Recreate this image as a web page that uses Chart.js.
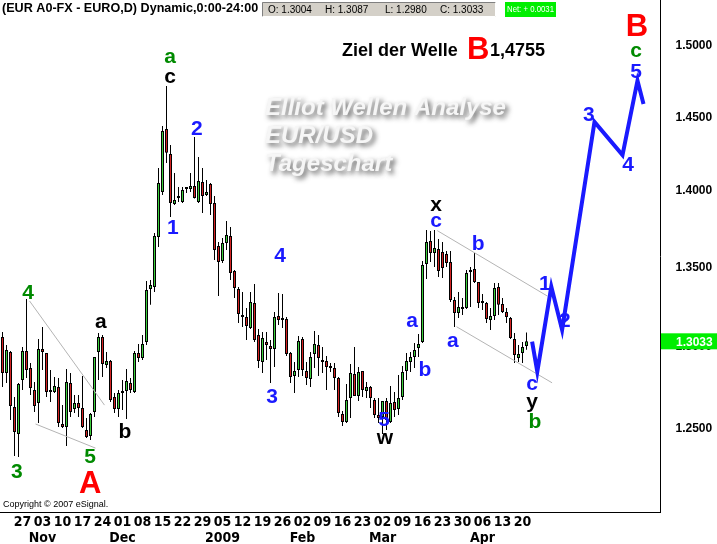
<!DOCTYPE html>
<html>
<head>
<meta charset="utf-8">
<script src="https://cdn.jsdelivr.net/npm/chart.js@4.4.0/dist/chart.umd.min.js"></script>
<style>
html,body{margin:0;padding:0;background:#fff;}
#wrap{width:717px;height:544px;position:relative;}
</style>
</head>
<body>
<div id="wrap"><canvas id="chart"></canvas></div>
<script>
// EUR/USD daily candles, 20 Oct 2008 - 21 Apr 2009
const opens = [
  1.3060,1.2838,1.2967,1.2632,1.2470,1.2795,1.2973,1.2868,1.2735,1.2656,
  1.2985,1.2961,1.2729,1.2723,1.2752,1.2530,1.2512,1.2777,1.2620,1.2656,
  1.2626,1.2494,1.2459,1.2602,1.2967,1.3060,1.2887,1.2912,1.2692,1.2620,
  1.2717,1.2729,1.2777,1.2723,1.2961,1.2930,1.3029,1.3361,1.3374,1.3697,
  1.3993,1.4419,1.4249,1.3914,1.3953,1.3927,1.4013,1.4013,1.4033,1.3927,
  1.4060,1.3973,1.4046,1.3920,1.3638,1.3541,1.3658,1.3703,1.3477,1.3361,
  1.3191,1.3185,1.3116,1.3273,1.3072,1.2906,1.3029,1.3004,1.2985,1.3191,
  1.3168,1.3172,1.2961,1.2819,1.2856,1.3047,1.2850,1.2801,1.2955,1.3010,
  1.2918,1.2912,1.2875,1.2868,1.2807,1.2590,1.2542,1.2686,1.2832,1.2698,
  1.2850,1.2729,1.2752,1.2674,1.2584,1.2572,1.2668,1.2542,1.2662,1.2620,
  1.2692,1.2850,1.2906,1.2936,1.2991,1.3029,1.3521,1.3671,1.3593,1.3619,
  1.3599,1.3586,1.3534,1.3292,1.3210,1.3248,1.3242,1.3470,1.3489,1.3406,
  1.3274,1.3273,1.3166,1.3191,1.3374,1.3267,1.3216,1.3179,1.3047,1.2930,
  1.2961,1.3004
];
const highs = [
  1.3091,1.3010,1.2973,1.2692,1.2777,1.2998,1.3298,1.2899,1.2783,1.3047,
  1.3122,1.2961,1.2856,1.2813,1.2807,1.2644,1.2862,1.2838,1.2704,1.2704,
  1.2819,1.2566,1.2596,1.2936,1.3084,1.3072,1.2967,1.2918,1.2717,1.2735,
  1.2795,1.2862,1.2807,1.2973,1.3016,1.3072,1.3413,1.3419,1.3723,1.4154,
  1.4440,1.4717,1.4310,1.4120,1.4026,1.4026,1.4026,1.4120,1.4364,1.4228,
  1.4154,1.4073,1.4053,1.3966,1.3664,1.3690,1.3801,1.3762,1.3483,1.3374,
  1.3342,1.3242,1.3342,1.3393,1.3109,1.3091,1.3091,1.3041,1.3216,1.3336,
  1.3330,1.3185,1.2967,1.2906,1.3066,1.3060,1.2906,1.2967,1.3097,1.3072,
  1.2998,1.2942,1.2899,1.2899,1.2813,1.2608,1.2771,1.2893,1.2998,1.2875,
  1.2850,1.2783,1.2759,1.2686,1.2686,1.2668,1.2686,1.2759,1.2723,1.2826,
  1.2881,1.2961,1.2967,1.3022,1.3078,1.3541,1.3742,1.3736,1.3742,1.3684,
  1.3664,1.3606,1.3606,1.3311,1.3342,1.3305,1.3483,1.3502,1.3593,1.3406,
  1.3330,1.3279,1.3242,1.3400,1.3400,1.3305,1.3242,1.3185,1.3084,1.3010,
  1.3029,1.3087
];
const lows = [
  1.2752,1.2777,1.2554,1.2341,1.2335,1.2735,1.2807,1.2704,1.2602,1.2536,
  1.2856,1.2692,1.2662,1.2717,1.2512,1.2506,1.2400,1.2572,1.2596,1.2572,
  1.2506,1.2447,1.2435,1.2572,1.2795,1.2813,1.2868,1.2662,1.2596,1.2572,
  1.2614,1.2560,1.2717,1.2717,1.2906,1.2918,1.3010,1.3261,1.3342,1.3632,
  1.3973,1.4188,1.3828,1.3907,1.3927,1.3920,1.3986,1.3993,1.3950,1.3920,
  1.3854,1.3966,1.3841,1.3547,1.3317,1.3528,1.3612,1.3419,1.3305,1.3147,
  1.3122,1.3041,1.3109,1.3029,1.2868,1.2838,1.2918,1.2777,1.2875,1.3134,
  1.3116,1.2942,1.2777,1.2717,1.2813,1.2819,1.2765,1.2752,1.2868,1.2819,
  1.2838,1.2735,1.2844,1.2735,1.2572,1.2518,1.2536,1.2566,1.2698,1.2668,
  1.2692,1.2686,1.2626,1.2566,1.2536,1.2470,1.2494,1.2536,1.2572,1.2584,
  1.2674,1.2795,1.2844,1.2868,1.2936,1.3022,1.3425,1.3534,1.3502,1.3438,
  1.3432,1.3502,1.3279,1.3122,1.3179,1.3198,1.3235,1.3248,1.3400,1.3242,
  1.3229,1.3147,1.3103,1.3166,1.3198,1.3210,1.3147,1.3047,1.2899,1.2906,
  1.2899,1.2980
];
const closes = [
  1.2838,1.2979,1.2638,1.2482,1.2771,1.2973,1.2856,1.2747,1.2638,1.2985,
  1.2967,1.2723,1.2723,1.2759,1.2536,1.2512,1.2783,1.2602,1.2656,1.2626,
  1.2512,1.2453,1.2590,1.2936,1.3060,1.2893,1.2912,1.2674,1.2620,1.2717,
  1.2719,1.2789,1.2735,1.2961,1.2930,1.3016,1.3355,1.3387,1.3703,1.4053,
  1.4405,1.4256,1.3920,1.3940,1.3955,1.4006,1.4019,1.4033,1.3953,1.4066,
  1.3966,1.3993,1.3914,1.3612,1.3534,1.3658,1.3710,1.3464,1.3368,1.3204,
  1.3185,1.3128,1.3279,1.3041,1.2912,1.3053,1.3010,1.2985,1.3185,1.3166,
  1.3166,1.2955,1.2813,1.2850,1.3035,1.2856,1.2807,1.2936,1.3016,1.2930,
  1.2906,1.2875,1.2868,1.2807,1.2596,1.2542,1.2674,1.2838,1.2698,1.2844,
  1.2735,1.2752,1.2686,1.2584,1.2566,1.2668,1.2554,1.2656,1.2614,1.2686,
  1.2844,1.2912,1.2936,1.2979,1.3016,1.3515,1.3664,1.3593,1.3625,1.3477,
  1.3496,1.3528,1.3292,1.3210,1.3248,1.3235,1.3464,1.3483,1.3406,1.3273,
  1.3273,1.3172,1.3191,1.3368,1.3261,1.3216,1.3185,1.3053,1.2949,1.2955,
  1.2998,1.3033
];
const netChange = 0.0031;

// weekly tick labels (Mondays), month names under the first Monday of a month
const tickDays   = ['27','03','10','17','24','01','08','15','22','29','05','12','19','26','02','09','16','23','02','09','16','23','30','06','13','20'];
const tickMonths = ['','Nov','','','','Dec','','','','','2009','','','','Feb','','','','Mar','','','','','Apr','',''];
const firstMonday = 5;      // bar index of 27 Oct
const futureSlots = 33;     // empty days to the right for the forecast
const yTicks = [1.25, 1.30, 1.35, 1.40, 1.45, 1.50];
const yMin = 1.2016, yMax = 1.5332;

// Elliott wave forecast (bar index, price) and the helper trend lines
const waveX = [132.4, 133.7, 137.2, 139.9, 148.0, 155.0, 158.75, 160.25];
const waveY = [1.3031, 1.2846, 1.3377, 1.3104, 1.4467, 1.4241, 1.4755, 1.4592];
const trendLines = [
  {x: [6.75, 25.5],   y: [1.3286, 1.2643]},
  {x: [8.25, 23.25],  y: [1.2530, 1.2387]},
  {x: [108.7, 136.2], y: [1.3738, 1.3317]},
  {x: [113.5, 137.4], y: [1.3124, 1.2778]}
];

// wave labels
const BLUE = '#1a1aff', GREEN = '#008a00', RED = '#ff0000', BLACK = '#000';
const waveLabels = [
  {t:'4', i:6.4,   p:1.3336, c:GREEN}, {t:'3', i:3.6,   p:1.2248, c:GREEN},
  {t:'5', i:21.9,  p:1.2335, c:GREEN}, {t:'A', i:21.9,  p:1.2177, c:RED, big:true},
  {t:'a', i:24.6,  p:1.3154, c:BLACK}, {t:'b', i:30.6,  p:1.2483, c:BLACK},
  {t:'a', i:41.9,  p:1.4922, c:GREEN}, {t:'c', i:41.9,  p:1.4780, c:BLACK},
  {t:'2', i:48.6,  p:1.4419, c:BLUE},  {t:'1', i:42.6,  p:1.3755, c:BLUE},
  {t:'4', i:69.4,  p:1.3574, c:BLUE},  {t:'3', i:67.4,  p:1.2692, c:BLUE},
  {t:'5', i:95.4,  p:1.2554, c:BLUE},  {t:'w', i:95.6,  p:1.2447, c:BLACK},
  {t:'a', i:102.4, p:1.3160, c:BLUE},  {t:'b', i:105.6, p:1.2857, c:BLUE},
  {t:'x', i:108.4, p:1.3907, c:BLACK}, {t:'c', i:108.4, p:1.3802, c:BLUE},
  {t:'b', i:118.9, p:1.3652, c:BLUE},  {t:'a', i:112.6, p:1.3035, c:BLUE},
  {t:'1', i:135.6, p:1.3393, c:BLUE},  {t:'2', i:140.6, p:1.3160, c:BLUE},
  {t:'c', i:132.4, p:1.2771, c:BLUE},  {t:'y', i:132.4, p:1.2661, c:BLACK},
  {t:'b', i:133.1, p:1.2541, c:GREEN}, {t:'3', i:146.6, p:1.4516, c:BLUE},
  {t:'4', i:156.4, p:1.4174, c:BLUE},  {t:'5', i:158.4, p:1.4816, c:BLUE},
  {t:'c', i:158.4, p:1.4964, c:GREEN}, {t:'B', i:158.6, p:1.5136, c:RED, big:true}
];

const FONT = '"Liberation Sans", Arial, sans-serif';
const NARROW = '"Liberation Sans Narrow", "DejaVu Sans Condensed", Arial, sans-serif';
const nSlots = opens.length + futureSlots;

function weekLabel(v){
    const k = (v - firstMonday) / 5;
    if (!Number.isInteger(k) || k < 0 || k >= tickDays.length) return '';
    return tickMonths[k] ? [tickDays[k], tickMonths[k]] : tickDays[k];
}

const bodyColors = opens.map((o, i) => closes[i] >= o ? '#3ccf3c' : '#d42222');

// ===== overlay texts =====
const overlay = {
    id: 'overlay',
    beforeDatasetsDraw(chart){
        const ctx = chart.ctx;
        ctx.save();
        ctx.font = 'italic bold 24px ' + FONT;
        ctx.textBaseline = 'middle';
        ctx.fillStyle = '#f6f6f6';
        ctx.shadowColor = 'rgba(70,70,70,0.85)';
        ctx.shadowBlur = 5;
        ctx.shadowOffsetX = 3;
        ctx.shadowOffsetY = 3;
        ['Elliot Wellen Analyse', 'EUR/USD', 'Tageschart'].forEach((t, k) => ctx.fillText(t, 265, 108 + k * 28));
        ctx.restore();
    },
    afterDraw(chart){
        const ctx = chart.ctx;
        const xs = chart.scales.x, ys = chart.scales.y;
        const last = opens.length - 1;
        ctx.save();
        ctx.textBaseline = 'middle';

        // wave labels
        ctx.textAlign = 'center';
        waveLabels.forEach(l => {
            ctx.font = (l.big ? 'bold 31px ' : 'bold 21px ') + FONT;
            ctx.fillStyle = l.c;
            ctx.fillText(l.t, xs.getPixelForValue(l.i), ys.getPixelForValue(l.p));
        });

        // target text
        ctx.textAlign = 'left';
        ctx.fillStyle = '#000';
        ctx.font = 'bold 18px ' + FONT;
        ctx.fillText('Ziel der Welle', 342, 51);
        ctx.fillText('1,4755', 490, 51);
        ctx.fillStyle = RED;
        ctx.font = 'bold 31px ' + FONT;
        ctx.fillText('B', 467, 50);

        // header line
        ctx.fillStyle = '#000';
        ctx.font = 'bold 12.6px ' + FONT;
        ctx.fillText('(EUR A0-FX - EURO,D) Dynamic,0:00-24:00', 2, 9);
        ctx.fillStyle = '#d4d0c8';
        ctx.fillRect(262, 2, 234, 15);
        ctx.strokeStyle = '#808080';
        ctx.lineWidth = 1;
        ctx.beginPath(); ctx.moveTo(262.5, 16.5); ctx.lineTo(262.5, 2.5); ctx.lineTo(495.5, 2.5); ctx.stroke();
        ctx.strokeStyle = '#ffffff';
        ctx.beginPath(); ctx.moveTo(495.5, 2.5); ctx.lineTo(495.5, 16.5); ctx.lineTo(262.5, 16.5); ctx.stroke();
        ctx.fillStyle = '#000';
        ctx.font = '10px ' + FONT;
        ctx.fillText('O: ' + opens[last].toFixed(4), 268, 10);
        ctx.fillText('H: ' + highs[last].toFixed(4), 325, 10);
        ctx.fillText('L: ' + lows[last].toFixed(4), 385, 10);
        ctx.fillText('C: ' + closes[last].toFixed(4), 440, 10);
        ctx.fillStyle = '#00ee00';
        ctx.fillRect(505, 2, 51, 15);
        ctx.fillStyle = '#ffffff';
        ctx.font = '9px ' + FONT;
        ctx.fillText('Net: + ' + netChange.toFixed(4), 507, 10, 47);

        // copyright
        ctx.fillStyle = '#000';
        ctx.font = '9px ' + FONT;
        ctx.fillText('Copyright \u00a9 2007 eSignal.', 3, 505);

        // last price box
        const py = ys.getPixelForValue(closes[last]);
        ctx.fillStyle = '#00ee00';
        ctx.fillRect(661, py - 8, 56, 16);
        ctx.fillStyle = '#ffffff';
        ctx.font = 'bold 12px ' + FONT;
        ctx.fillText(closes[last].toFixed(4), 676, py + 1);
        ctx.restore();
    }
};

// ===== Chart =====
const lineSets = trendLines.map(l => ({
    type: 'line',
    data: l.x.map((x, k) => ({x, y: l.y[k]})),
    borderColor: '#b4b4b4', borderWidth: 1,
    pointRadius: 0, tension: 0, order: 1
}));

new Chart(document.getElementById('chart'), {
    type: 'bar',
    data: {
        datasets: [
            {
                type: 'line',
                data: waveX.map((x, k) => ({x, y: waveY[k]})),
                borderColor: BLUE, borderWidth: 4,
                pointRadius: 0, tension: 0, order: 0
            },
            ...lineSets,
            {
                label: 'body',
                data: opens.map((o, i) => ({x: i, y: [o, closes[i]]})),
                backgroundColor: bodyColors,
                borderColor: '#000', borderWidth: 1, borderSkipped: false,
                barThickness: 3, minBarLength: 2, grouped: false, inflateAmount: 0,
                order: 2
            },
            {
                label: 'wick',
                data: highs.map((h, i) => ({x: i, y: [lows[i], h]})),
                backgroundColor: '#000',
                barThickness: 1, grouped: false, inflateAmount: 0,
                order: 3
            }
        ]
    },
    options: {
        responsive: true,
        maintainAspectRatio: false,
        animation: false,
        events: [],
        layout: { padding: { left: 0.5, top: 0, right: 0, bottom: 0 } },
        plugins: { legend: { display: false }, tooltip: { enabled: false } },
        scales: {
            x: {
                type: 'linear', min: -0.5, max: nSlots - 0.5, bounds: 'data', offset: false,
                grid: { display: false, drawTicks: false, offset: false },
                border: { display: true, color: '#000' },
                ticks: { autoSkip: false, maxRotation: 0, minRotation: 0, padding: 3, color: '#000',
                         font: { family: NARROW, size: 14, weight: 'bold', lineHeight: 1.1 },
                         callback: v => weekLabel(v) },
                afterBuildTicks: s => { s.ticks = tickDays.map((_, k) => ({ value: firstMonday + 5 * k })); },
                afterFit: s => { s.height = 32; s.paddingLeft = 0; s.paddingRight = 0; }
            },
            y: {
                type: 'logarithmic', position: 'right', min: yMin, max: yMax, bounds: 'data',
                grid: { display: false, drawTicks: false },
                border: { display: true, color: '#000' },
                ticks: { padding: 15, color: '#000', font: { family: FONT, size: 12, weight: 'bold' },
                         callback: v => Number(v).toFixed(4) },
                afterBuildTicks: s => { s.ticks = yTicks.map(v => ({ value: v })); },
                afterFit: s => { s.width = 56.5; s.paddingTop = 0; s.paddingBottom = 0; }
            }
        }
    },
    plugins: [overlay]
});
</script>
</body>
</html>
